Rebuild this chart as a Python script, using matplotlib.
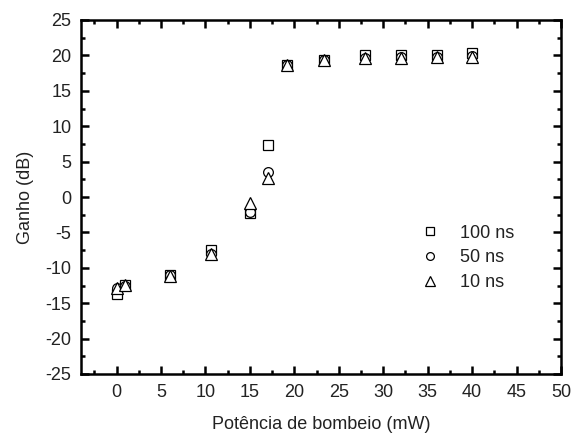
import matplotlib.pyplot as plt
from matplotlib.ticker import MultipleLocator

plt.rcParams['font.family'] = ['Liberation Sans', 'DejaVu Sans']
plt.rcParams['axes.unicode_minus'] = False

# pump power (mW)
power = [0, 1, 6, 10.6, 15, 17, 19.2, 23.3, 28, 32, 36, 40]
# gain (dB) for each pulse width
gain_100 = [-13.7, -12.4, -11.0, -7.5, -2.3, 7.3, 18.6, 19.3, 20.0, 20.0, 20.0, 20.3]
gain_50 = [-12.9, -12.5, -11.0, -8.0, -2.1, 3.6, 18.6, 19.3, 19.7, 19.8, 19.8, 19.9]
gain_10 = [-12.8, -12.4, -11.1, -8.1, -0.8, 2.7, 18.7, 19.3, 19.6, 19.7, 19.8, 19.8]

fig = plt.figure(figsize=(5.75, 4.38), dpi=100)
ax = fig.add_axes([81/575, 1 - 374/438, 480/575, 354/438])

ax.plot(power, gain_100, 's', mfc='white', mec='black', ms=6.5, mew=0.9, ls='none', label='100 ns')
ax.plot(power, gain_50, 'o', mfc='white', mec='black', ms=7, mew=0.9, ls='none', label='50 ns')
ax.plot(power, gain_10, '^', mfc='white', mec='black', ms=8.5, mew=0.9, ls='none', label='10 ns')

ax.set_xlim(-4, 50)
ax.set_ylim(-25, 25)
ax.xaxis.set_major_locator(MultipleLocator(5))
ax.xaxis.set_minor_locator(MultipleLocator(2.5))
ax.yaxis.set_major_locator(MultipleLocator(5))
ax.yaxis.set_minor_locator(MultipleLocator(2.5))
ax.tick_params(which='both', direction='in', top=True, right=True, width=1.8,
               labelsize=13, pad=7, labelcolor='#222222')
ax.tick_params(which='major', length=6)
ax.tick_params(which='minor', length=3)
for s in ax.spines.values():
    s.set_linewidth(1.8)

ax.set_xlabel('Potência de bombeio (mW)', fontsize=13, labelpad=11, color='#222222')
ax.set_ylabel('Ganho (dB)', fontsize=13, labelpad=8, color='#222222')

leg = ax.legend(loc='upper left', bbox_to_anchor=(0.694, 0.442), frameon=False, fontsize=13,
                handlelength=1, handletextpad=1.15, labelspacing=0.42, markerscale=0.8,
                borderaxespad=0)
for t in leg.get_texts():
    t.set_color('#222222')

fig.savefig('out.png', dpi=100)
